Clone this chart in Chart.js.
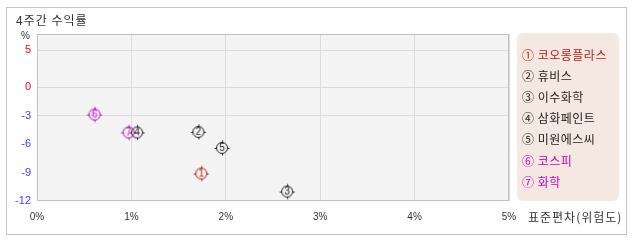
<!DOCTYPE html>
<html>
<head>
<meta charset="utf-8">
<script src="https://cdn.jsdelivr.net/npm/chart.js@4/dist/chart.umd.min.js"></script>
<style>
  html, body { margin: 0; padding: 0; background: #ffffff; }
  #wrap { width: 638px; height: 242px; }
</style>
</head>
<body>
<div id="wrap"><canvas id="c" width="638" height="242"></canvas></div>
<script>
// ---- data ----
const companies = ['코오롱플라스', '휴비스', '이수화학', '삼화페인트', '미원에스씨', '코스피', '화학'];
const markerSymbols = ['①', '②', '③', '④', '⑤', '⑥', '⑦'];
const markerDigits = ['1', '2', '3', '4', '5', '6', '7'];
const riskValues = [1.74, 1.71, 2.65, 1.06, 1.96, 0.61, 0.97];      // 표준편차 (%)
const returnValues = [-9.1, -4.7, -11.0, -4.76, -6.39, -2.86, -4.76]; // 4주간 수익률 (%)
const yTickValues = [5, 0, -3, -6, -9, -12];
const xTickValues = [0, 1, 2, 3, 4, 5];
const chartTitle = '4주간 수익률';
const yUnit = '%';
const xAxisTitle = '표준편차(위험도)';

// ---- styles ----
const seriesColors = ['#b81818', '#222222', '#222222', '#222222', '#222222', '#c000c0', '#c000c0'];
const KFONT = '"Noto Sans CJK KR", "Noto Sans", sans-serif';
const TFONT = '"Liberation Sans", "DejaVu Sans", sans-serif';

// nonlinear (split) axis like the original: positive range compressed
const POS_FRAC = 0.32;
class SplitLinearScale extends Chart.LinearScale {
  getPixelForValue(value) {
    const zero = this.top + (this.bottom - this.top) * POS_FRAC;
    if (value >= 0) return zero - (value / this.max) * (zero - this.top);
    return zero + (value / this.min) * (this.bottom - zero);
  }
  getValueForPixel(pixel) {
    const zero = this.top + (this.bottom - this.top) * POS_FRAC;
    if (pixel <= zero) return (zero - pixel) / (zero - this.top) * this.max;
    return (pixel - zero) / (this.bottom - zero) * this.min;
  }
}
SplitLinearScale.id = 'splitLinear';
SplitLinearScale.defaults = Chart.LinearScale.defaults;
Chart.register(SplitLinearScale);

function makeMarker(digit, color) {
  const s = 18, c = 9, r = 5.5;
  const cv = document.createElement('canvas');
  cv.width = s; cv.height = s;
  const g = cv.getContext('2d');
  g.strokeStyle = color; g.lineWidth = 1;
  g.beginPath(); g.arc(c, c, r, 0, Math.PI * 2); g.stroke();
  g.beginPath();
  g.moveTo(c + 0.5, c - r); g.lineTo(c + 0.5, c - r - 2);
  g.moveTo(c + 0.5, c + r); g.lineTo(c + 0.5, c + r + 2);
  g.moveTo(c - r, c + 0.5); g.lineTo(c - r - 2, c + 0.5);
  g.moveTo(c + r, c + 0.5); g.lineTo(c + r + 2, c + 0.5);
  g.stroke();
  g.fillStyle = color;
  g.font = '10px ' + TFONT;
  g.textAlign = 'center'; g.textBaseline = 'middle';
  g.fillText(digit, c, c + 0.5);
  return cv;
}

const datasets = companies.map((name, i) => ({
  label: markerSymbols[i] + ' ' + name,
  data: [{ x: riskValues[i], y: returnValues[i] }],
  pointStyle: makeMarker(markerDigits[i], seriesColors[i]),
  pointRadius: 7,
  pointHoverRadius: 7,
  borderColor: seriesColors[i],
  backgroundColor: seriesColors[i],
  showLine: false
}));

const decorPlugin = {
  id: 'decor',
  beforeDraw(chart) {
    const g = chart.ctx, a = chart.chartArea;
    g.save();
    // outer frame
    g.strokeStyle = '#c4c4c4'; g.lineWidth = 1;
    g.strokeRect(6.5, 7.5, 620, 227);
    // plot background
    g.fillStyle = '#f4f4f4';
    g.fillRect(a.left, a.top, a.right - a.left, a.bottom - a.top);
    g.restore();
  },
  afterDraw(chart) {
    const g = chart.ctx, a = chart.chartArea;
    g.save();
    // plot frame
    g.strokeStyle = '#c0c0c0'; g.lineWidth = 1;
    g.strokeRect(Math.round(a.left) + 0.5, Math.round(a.top) + 0.5,
                 Math.round(a.right - a.left) - 1, Math.round(a.bottom - a.top) - 1);
    // title
    g.fillStyle = '#333333';
    g.font = '12px ' + KFONT;
    g.letterSpacing = '1px';
    g.textAlign = 'left'; g.textBaseline = 'middle';
    g.fillText(chartTitle, 16, 20);
    // x axis title
    g.fillText(xAxisTitle, 528, 217);
    // y unit
    g.letterSpacing = '0px';
    g.font = '10px ' + TFONT;
    g.textAlign = 'right';
    g.fillText(yUnit, 30, 36);
    // legend box
    const bx = 517, by = 33, bw = 102, bh = 168, br = 6;
    g.fillStyle = '#f5e8e1';
    g.beginPath();
    g.moveTo(bx + br, by);
    g.arcTo(bx + bw, by, bx + bw, by + bh, br);
    g.arcTo(bx + bw, by + bh, bx, by + bh, br);
    g.arcTo(bx, by + bh, bx, by, br);
    g.arcTo(bx, by, bx + bw, by, br);
    g.closePath(); g.fill();
    g.font = '12px ' + KFONT;
    g.letterSpacing = '0.5px';
    g.textAlign = 'left';
    g.textBaseline = 'middle';
    chart.data.datasets.forEach((ds, i) => {
      g.fillStyle = ds.borderColor;
      g.fillText(ds.label, 522, 55.5 + i * 21.1);
    });
    g.restore();
  }
};

new Chart(document.getElementById('c'), {
  type: 'scatter',
  data: { datasets },
  options: {
    responsive: false,
    animation: false,
    devicePixelRatio: 1,
    layout: { padding: { left: 0, top: 34, right: 129, bottom: 0 } },
    plugins: { legend: { display: false }, tooltip: { enabled: false }, title: { display: false } },
    scales: {
      x: {
        type: 'linear',
        min: 0, max: 5,
        afterBuildTicks: s => { s.ticks = xTickValues.map(v => ({ value: v })); },
        afterFit: s => { s.height = 41; },
        grid: { color: '#dcdcdc', drawTicks: false },
        border: { display: false },
        ticks: {
          padding: 10,
          color: '#333333',
          font: { family: TFONT, size: 10 },
          maxRotation: 0,
          callback: v => v + '%'
        }
      },
      y: {
        type: 'splitLinear',
        min: -12, max: 7.2,
        afterBuildTicks: s => { s.ticks = yTickValues.map(v => ({ value: v })); },
        afterFit: s => { s.width = 37; },
        grid: {
          drawTicks: false,
          color: c => (c.tick && [5, 0, -3].includes(c.tick.value)) ? '#dcdcdc' : 'rgba(0,0,0,0)'
        },
        border: { display: false },
        ticks: {
          padding: 6,
          font: { family: TFONT, size: 11 },
          color: c => (c.tick && c.tick.value >= 0) ? '#ff0000' : '#3b3bff',
          callback: v => String(v)
        }
      }
    }
  },
  plugins: [decorPlugin]
});
</script>
</body>
</html>
